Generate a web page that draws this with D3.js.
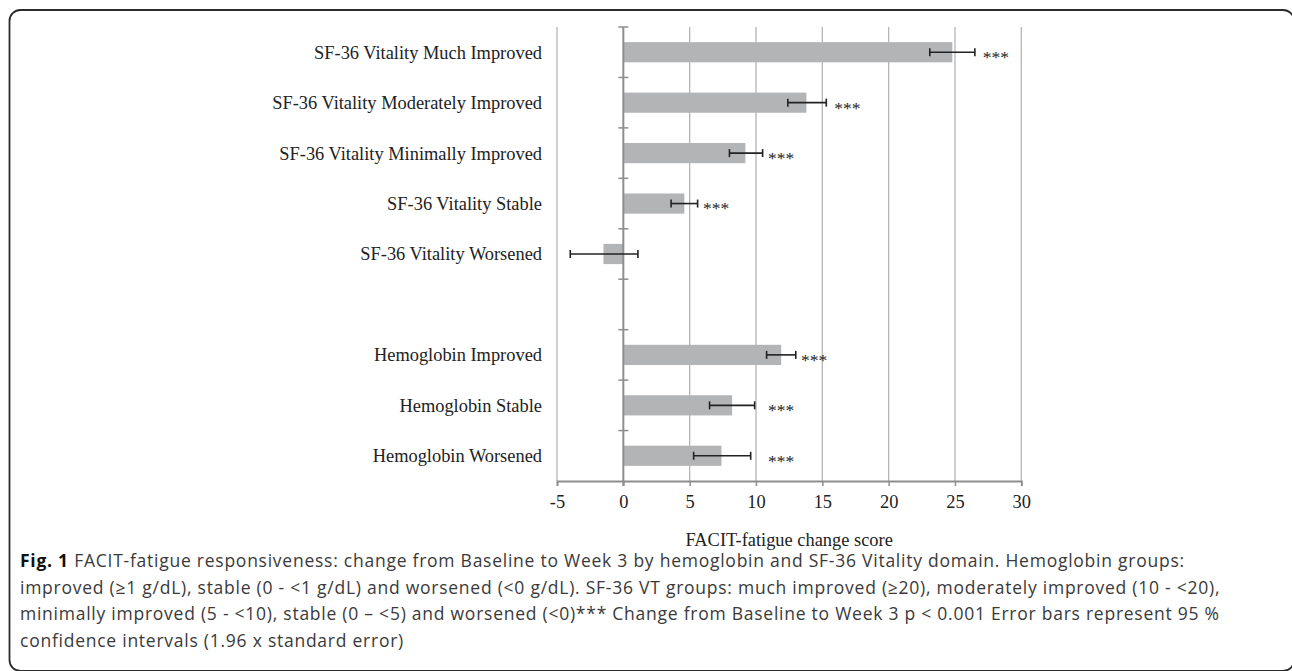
<!DOCTYPE html>
<html>
<head>
<meta charset="utf-8">
<script src="https://cdn.jsdelivr.net/npm/d3@7"></script>
<style>
  body { margin: 0; background: #fff; }
  svg { display: block; }
</style>
</head>
<body>
<div id="container"></div>
<script>
/* DATA */
// "gap" is the empty slot between the two groups
const categories = [
  "SF-36 Vitality Much Improved",
  "SF-36 Vitality Moderately Improved",
  "SF-36 Vitality Minimally Improved",
  "SF-36 Vitality Stable",
  "SF-36 Vitality Worsened",
  "gap",
  "Hemoglobin Improved",
  "Hemoglobin Stable",
  "Hemoglobin Worsened"
];
const means   = [24.8, 13.8, 9.2, 4.6, -1.5, null, 11.9, 8.2, 7.4];
const ciLow   = [23.1, 12.4, 8.0, 3.6, -4.0, null, 10.8, 6.5, 5.3];
const ciHigh  = [26.5, 15.3, 10.5, 5.6, 1.1, null, 13.0, 9.9, 9.6];
// where the significance label sits, in score units
const sigLabel = ["***", "***", "***", "***", "", "", "***", "***", "***"];
const sigAt    = [27.1, 15.9, 10.9, 6.0, null, null, 13.4, 10.9, 10.9];
const xTicks = [-5, 0, 5, 10, 15, 20, 25, 30];
const xTitle = "FACIT-fatigue change score";
const captionLines = [
  "FACIT-fatigue responsiveness: change from Baseline to Week 3 by hemoglobin and SF-36 Vitality domain. Hemoglobin groups:",
  "improved (\u22651 g/dL), stable (0 - <1 g/dL) and worsened (<0 g/dL). SF-36 VT groups: much improved (\u226520), moderately improved (10 - <20),",
  "minimally improved (5 - <10), stable (0 \u2013 <5) and worsened (<0)*** Change from Baseline to Week 3 p < 0.001 Error bars represent 95 %",
  "confidence intervals (1.96 x standard error)"
];

const data = categories.map((c, i) => ({
  cat: c, mean: means[i], lo: ciLow[i], hi: ciHigh[i], sig: sigLabel[i], sigAt: sigAt[i]
}));

/* CONSTANTS */
const width = 1292, height = 671;
const plot = { left: 557, right: 1021.3, top: 27, bottom: 481 };

const svg = d3.select("#container").append("svg")
  .attr("width", width)
  .attr("height", height);

// frame with rounded corners (right and bottom run off the page)
svg.append("rect")
  .attr("x", 9.5).attr("y", 10)
  .attr("width", 1284.5).attr("height", 661)
  .attr("rx", 11).attr("ry", 11)
  .attr("fill", "none")
  .attr("stroke", "#2b2b2b")
  .attr("stroke-width", 1.8);

/* SCALES */
const xScale = d3.scaleLinear()
  .domain([-5, 30])
  .range([plot.left, plot.right]);

const yScale = d3.scaleBand()
  .domain(categories)
  .range([plot.top, plot.bottom])
  .paddingInner(0.6)
  .paddingOuter(0.3);

const serif = "'Liberation Serif', 'Times New Roman', serif";
const labelSize = 18.4;

// vertical gridlines
svg.append("g")
  .selectAll("line")
  .data(xTicks.filter(t => t !== 0))
  .join("line")
  .attr("x1", d => xScale(d)).attr("x2", d => xScale(d))
  .attr("y1", plot.top).attr("y2", plot.bottom)
  .attr("stroke", "#b5b5b5")
  .attr("stroke-width", 1.3);

// x axis
const xAxis = d3.axisBottom(xScale)
  .tickValues(xTicks)
  .tickSize(5)
  .tickPadding(9)
  .tickFormat(d3.format("d"));
const gx = svg.append("g")
  .attr("transform", `translate(0, ${plot.bottom})`)
  .call(xAxis);
gx.select(".domain").attr("stroke", "#8e8e8e").attr("stroke-width", 1.8);
gx.selectAll(".tick line").attr("stroke", "#8e8e8e").attr("stroke-width", 1.5);
gx.selectAll(".tick text")
  .attr("font-family", serif)
  .attr("font-size", labelSize)
  .attr("fill", "#222")
  .text(d => d < 0 ? "-" + Math.abs(d) : d);

// bars
svg.append("g")
  .selectAll("rect")
  .data(data.filter(d => d.mean !== null))
  .join("rect")
  .attr("x", d => xScale(Math.min(0, d.mean)))
  .attr("y", d => yScale(d.cat))
  .attr("width", d => Math.abs(xScale(d.mean) - xScale(0)))
  .attr("height", yScale.bandwidth())
  .attr("fill", "#b3b4b6");

// category axis on the zero line, with cross ticks at band edges
const zeroX = xScale(0);
svg.append("line")
  .attr("x1", zeroX).attr("x2", zeroX)
  .attr("y1", plot.top).attr("y2", plot.bottom + 5)
  .attr("stroke", "#8e8e8e")
  .attr("stroke-width", 2);
const edges = categories.map((c, i) => i === 0 ? plot.top : yScale(c) - yScale.step() * yScale.paddingInner() / 2);
svg.append("g")
  .selectAll("line")
  .data(edges)
  .join("line")
  .attr("x1", zeroX - 5).attr("x2", zeroX + 5)
  .attr("y1", d => d).attr("y2", d => d)
  .attr("stroke", "#8e8e8e")
  .attr("stroke-width", 1.5);

// category labels
svg.append("g")
  .selectAll("text")
  .data(data.filter(d => d.cat !== "gap"))
  .join("text")
  .attr("x", 542)
  .attr("y", d => yScale(d.cat) + yScale.bandwidth() / 2)
  .attr("dy", "0.35em")
  .attr("text-anchor", "end")
  .attr("font-family", serif)
  .attr("font-size", labelSize)
  .attr("fill", "#222")
  .text(d => d.cat);

// error bars
const eb = svg.append("g")
  .attr("stroke", "#222")
  .attr("stroke-width", 1.6)
  .selectAll("g")
  .data(data.filter(d => d.lo !== null))
  .join("g")
  .attr("transform", d => `translate(0, ${yScale(d.cat) + yScale.bandwidth() / 2})`);
eb.append("line")
  .attr("x1", d => xScale(d.lo)).attr("x2", d => xScale(d.hi))
  .attr("y1", 0).attr("y2", 0);
eb.append("line")
  .attr("x1", d => xScale(d.lo)).attr("x2", d => xScale(d.lo))
  .attr("y1", -4).attr("y2", 4);
eb.append("line")
  .attr("x1", d => xScale(d.hi)).attr("x2", d => xScale(d.hi))
  .attr("y1", -4).attr("y2", 4);

// significance stars
svg.append("g")
  .selectAll("text")
  .data(data.filter(d => d.sigAt !== null))
  .join("text")
  .attr("x", d => xScale(d.sigAt))
  .attr("y", d => yScale(d.cat) + yScale.bandwidth() / 2)
  .attr("dy", "0.62em")
  .attr("font-family", serif)
  .attr("font-size", 17.5)
  .attr("fill", "#222")
  .text(d => d.sig);

// axis title
svg.append("text")
  .attr("x", (plot.left + plot.right) / 2)
  .attr("y", 546)
  .attr("text-anchor", "middle")
  .attr("font-family", serif)
  .attr("font-size", labelSize)
  .attr("fill", "#222")
  .text(xTitle);

// caption
const cap = svg.append("text")
  .attr("font-family", "'Open Sans', 'Noto Sans', sans-serif")
  .attr("font-size", 17.5)
  .attr("letter-spacing", 0.75)
  .attr("fill", "#3a3a3a");
captionLines.forEach((line, i) => {
  const t = cap.append("tspan")
    .attr("x", 20)
    .attr("y", 567 + i * 26.5);
  if (i === 0) {
    t.append("tspan").attr("font-weight", "bold").attr("fill", "#111").text("Fig. 1");
    t.append("tspan").text(" " + line);
  } else {
    t.text(line);
  }
});
</script>
</body>
</html>
